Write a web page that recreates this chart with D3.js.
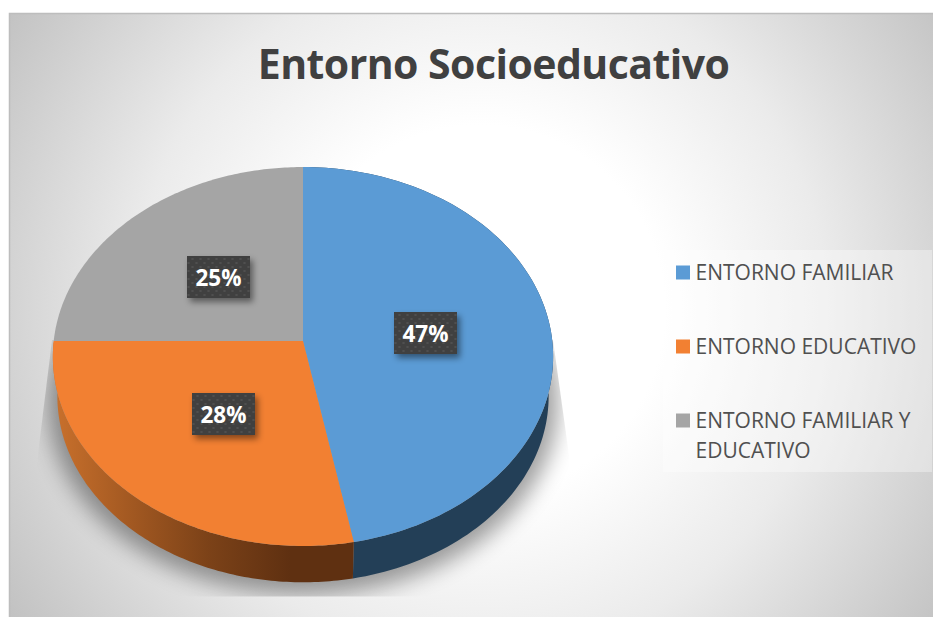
<!DOCTYPE html>
<html><head><meta charset="utf-8">
<script src="https://cdn.jsdelivr.net/npm/d3@7"></script>
<style>html,body{margin:0;padding:0;background:#fff}svg{display:block}text{font-family:"Open Sans",sans-serif}</style>
</head><body><div id="c"></div>
<script>
const categories=["ENTORNO FAMILIAR","ENTORNO EDUCATIVO","ENTORNO FAMILIAR Y EDUCATIVO"];
const seriesValues=[47,28,25];
const colors=["#5b9bd5","#f28032","#a5a5a5"];
const chartTitle="Entorno Socioeducativo";
const legendLines=[["ENTORNO FAMILIAR"],["ENTORNO EDUCATIVO"],["ENTORNO FAMILIAR Y","EDUCATIVO"]];

const W=935,H=617;
const svg=d3.select("#c").append("svg").attr("width",W).attr("height",H);
const defs=svg.append("defs");

// projection of the pie disc
const cx=303,cy=341,a=249.3,b=188.2,k=0.0818;
const proj=(t,s=1,dy=0)=>{const u=Math.sin(t),v=Math.cos(t),w=1+k*v;
  return [cx+s*a*u/w, cy+dy-s*b*v/w];};
const arcs=d3.pie().sort(null).value(d=>d)(seriesValues);
const line=d3.line();
const samples=(a0,a1,s,dy)=>d3.range(0,121).map(i=>proj(a0+(a1-a0)*i/120,s,dy));
const topPath=d=>line([[cx,cy],...samples(d.startAngle,d.endAngle,1,0)])+"Z";
const depth=40,bs=0.982;
const sidePath=(a0,a1)=>line([...samples(a0,a1,1,0),...samples(a0,a1,bs,depth).reverse()])+"Z";

// background
const bg=defs.append("radialGradient").attr("id","bg").attr("gradientUnits","userSpaceOnUse")
 .attr("cx",480).attr("cy",310).attr("r",560);
[[0,"#ffffff"],[0.33,"#ffffff"],[0.62,"#ebebeb"],[1,"#c2c2c2"]].forEach(s=>bg.append("stop").attr("offset",s[0]).attr("stop-color",s[1]));
svg.append("rect").attr("x",9).attr("y",13).attr("width",924).attr("height",604).attr("fill","url(#bg)");
svg.append("path").attr("d","M9.5 617V13.5H933").attr("fill","none").attr("stroke","#bdbdbd").attr("stroke-width",1.5);

// shadow
defs.append("filter").attr("id","blur").attr("x","-20%").attr("y","-20%").attr("width","140%").attr("height","140%")
 .append("feGaussianBlur").attr("stdDeviation",11);
defs.append("clipPath").attr("id","shClip").append("path").attr("d","M52 340L37 462L37 596.5H569V455L553 340Z");
svg.append("g").attr("clip-path","url(#shClip)").append("path")
 .attr("d",line(samples(0,2*Math.PI,1.02,depth+5))+"Z").attr("fill","#000").attr("opacity",0.38).attr("filter","url(#blur)");

// side walls
const og=defs.append("linearGradient").attr("id","sideO").attr("gradientUnits","userSpaceOnUse")
 .attr("x1",55).attr("x2",290).attr("y1",0).attr("y2",0);
[[0,"#c8702c"],[0.3,"#a55a22"],[0.65,"#7c4218"],[1,"#5f3011"]].forEach(s=>og.append("stop").attr("offset",s[0]).attr("stop-color",s[1]));
const sideFill=["#233f57","url(#sideO)","#5a5a5a"];
arcs.forEach((d,i)=>{
  const a0=d.startAngle,a1=Math.min(d.endAngle,1.5*Math.PI);
  if(a1>a0) svg.append("path").attr("d",sidePath(a0,a1)).attr("fill",sideFill[i]);
});

// top faces
svg.selectAll("path.slice").data(arcs).join("path").attr("class","slice")
 .attr("d",topPath).attr("fill",(d,i)=>colors[i]);

// data labels
const pat=defs.append("pattern").attr("id","dots").attr("patternUnits","userSpaceOnUse").attr("width",8).attr("height",8);
pat.append("rect").attr("width",8).attr("height",8).attr("fill","#404040");
pat.append("circle").attr("cx",2).attr("cy",2).attr("r",1).attr("fill","#555555");
pat.append("circle").attr("cx",6).attr("cy",6).attr("r",1).attr("fill","#555555");
const ds=defs.append("filter").attr("id","ds").attr("x","-30%").attr("y","-30%").attr("width","170%").attr("height","170%");
ds.append("feDropShadow").attr("dx",3).attr("dy",4).attr("stdDeviation",3).attr("flood-color","#000").attr("flood-opacity",0.45);
const labelCenters=[[425.5,333],[223.5,414],[218.5,277]];
const lab=svg.selectAll("g.lab").data(arcs).join("g").attr("class","lab")
 .attr("transform",(d,i)=>`translate(${labelCenters[i]})`);
lab.append("rect").attr("x",-31.5).attr("y",-21).attr("width",63).attr("height",42).attr("fill","url(#dots)").attr("filter","url(#ds)");
lab.append("text").attr("text-anchor","middle").attr("y",9).attr("font-size",22.5).attr("font-weight",700).attr("fill","#fff")
 .text(d=>d.value+"%");

// title
svg.append("text").attr("x",493.5).attr("y",78.5).attr("text-anchor","middle").attr("font-size",41).attr("font-weight",700)
 .attr("letter-spacing",-0.55).attr("fill","#404040").text(chartTitle);

// legend
svg.append("rect").attr("x",663).attr("y",250).attr("width",269).attr("height",222).attr("fill","#fff").attr("opacity",0.35);
const keyY=[272,346,420];
const leg=svg.selectAll("g.leg").data(categories).join("g").attr("class","leg");
leg.append("rect").attr("x",676).attr("y",(d,i)=>keyY[i]-6.5).attr("width",14).attr("height",14).attr("fill",(d,i)=>colors[i]);
leg.each(function(d,i){
  const g=d3.select(this);
  legendLines[i].forEach((t,j)=>g.append("text").attr("x",695.5).attr("y",keyY[i]+7.5+j*30)
    .attr("font-size",21).attr("fill","#505050").text(t));
});
</script></body></html>
